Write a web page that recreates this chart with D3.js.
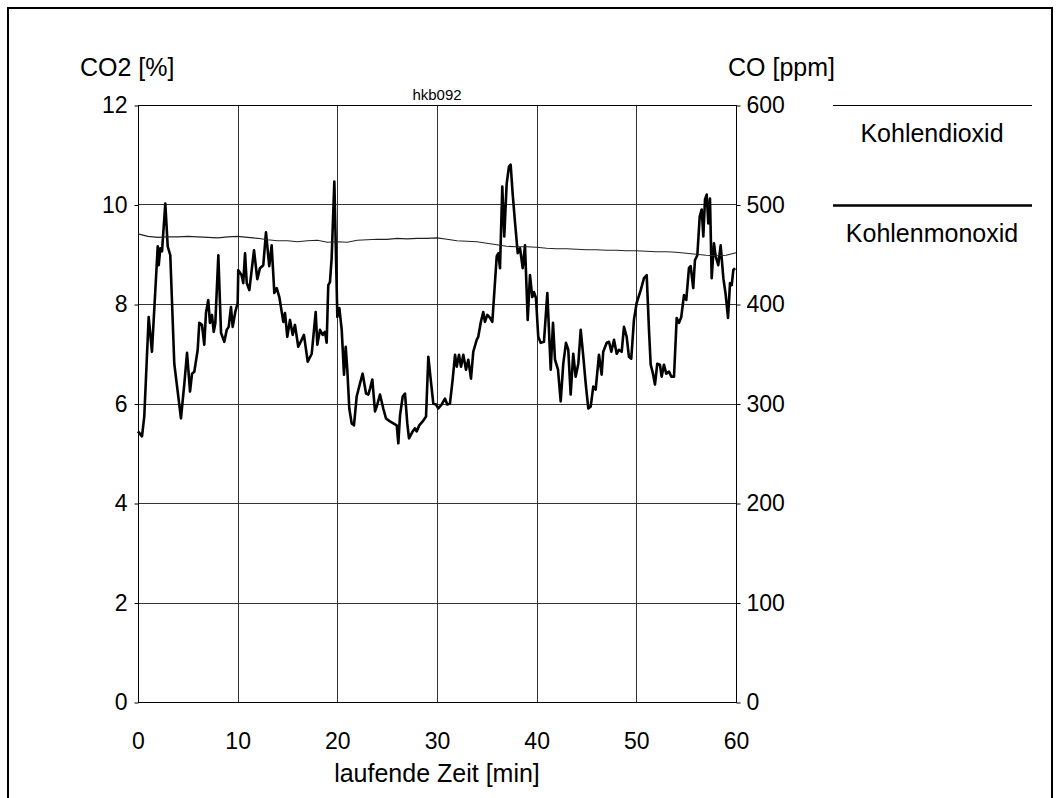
<!DOCTYPE html>
<html>
<head>
<meta charset="utf-8">
<script src="https://cdn.jsdelivr.net/npm/d3@7/dist/d3.min.js"></script>
<style>
  body { margin: 0; background: #fff; }
  text { font-family: "Liberation Sans", Arial, sans-serif; fill: #000; }
</style>
</head>
<body>
<script>
// Kohlenmonoxid (CO) in ppm, right axis
var coTime = [0.0, 0.40, 0.63, 1.07, 1.40, 1.98, 2.08, 2.24, 2.41, 2.74, 2.98, 3.24, 3.64, 4.31, 4.65, 4.92,
  5.22, 5.42, 5.65, 5.99, 6.15, 6.42, 6.65, 6.82, 7.05, 7.22, 7.42, 7.60, 7.76, 8.06, 8.33, 8.66, 8.90,
  9.10, 9.33, 9.50, 9.76, 10.00, 10.06, 10.40, 10.56, 10.74, 10.91, 11.17, 11.64, 11.97, 12.24, 12.57,
  12.84, 13.17, 13.41, 13.68, 13.92, 14.18, 14.58, 14.75, 14.98, 15.25, 15.52, 15.75, 16.08, 16.42,
  16.65, 17.03, 17.43, 17.83, 17.99, 18.26, 18.53, 18.76, 18.93, 19.09, 19.26, 19.43, 19.70, 20.00,
  20.20, 20.44, 20.67, 20.84, 21.00, 21.20, 21.44, 21.67, 21.94, 22.27, 22.54, 22.88, 23.11, 23.28,
  23.51, 23.78, 24.01, 24.28, 24.61, 24.88, 25.28, 25.62, 25.96, 26.12, 26.29, 26.56, 26.79, 27.02,
  27.19, 27.56, 27.79, 27.96, 28.22, 28.56, 28.90, 29.13, 29.37, 29.63, 29.90, 30.13, 30.47, 30.80,
  31.03, 31.30, 31.57, 31.81, 31.98, 32.21, 32.41, 32.64, 32.91, 33.14, 33.41, 33.64, 33.98, 34.14,
  34.38, 34.64, 34.81, 35.05, 35.32, 35.55, 35.72, 35.99, 36.15, 36.32, 36.55, 36.75, 36.99, 37.22,
  37.39, 37.59, 37.82, 38.10, 38.33, 38.60, 38.83, 39.10, 39.33, 39.56, 39.73, 39.93, 40.16, 40.40,
  40.73, 41.07, 41.41, 41.64, 41.84, 42.14, 42.41, 42.67, 42.94, 43.17, 43.41, 43.67, 43.91, 44.18,
  44.42, 44.68, 44.92, 45.18, 45.42, 45.68, 45.92, 46.25, 46.52, 46.68, 47.03, 47.26, 47.49, 47.76,
  48.03, 48.26, 48.53, 48.76, 49.03, 49.26, 49.49, 49.76, 50.03, 50.44, 50.77, 51.04, 51.27, 51.44,
  51.67, 51.87, 52.10, 52.37, 52.54, 52.77, 53.00, 53.28, 53.51, 53.78, 54.05, 54.28, 54.51, 54.78,
  55.01, 55.28, 55.45, 55.71, 55.88, 56.12, 56.36, 56.56, 56.72, 56.89, 57.06, 57.22, 57.39, 57.56,
  57.79, 57.96, 58.22, 58.46, 58.73, 58.97, 59.20, 59.40, 59.57, 59.73, 59.90];
var coPpm = [272, 267, 287, 387, 352, 458, 439, 456, 453, 501, 458, 449, 340, 285, 320, 351,
  312, 330, 332, 354, 381, 379, 359, 391, 404, 381, 389, 372, 381, 449, 371, 362, 374,
  377, 397, 377, 392, 401, 434, 429, 421, 451, 421, 414, 454, 425, 436, 439,
  472, 438, 459, 411, 416, 407, 382, 391, 367, 384, 369, 379, 357, 364,
  369, 342, 350, 392, 359, 374, 369, 372, 361, 419, 422, 446, 523, 387,
  396, 374, 329, 357, 334, 295, 280, 278, 307, 320, 330, 310, 309, 315,
  324, 292, 299, 309, 295, 285, 282, 280, 278, 260, 288, 307, 310, 280,
  265, 272, 275, 272, 278, 282, 287, 347, 324, 300, 299, 295, 299, 305,
  299, 300, 324, 349, 337, 349, 337, 349, 334, 344, 325, 352, 364, 367,
  381, 392, 382, 389, 386, 382, 407, 448, 451, 436, 518, 468, 521, 538,
  540, 511, 483, 451, 456, 436, 459, 384, 429, 407, 412, 406, 367, 361,
  362, 411, 334, 381, 344, 334, 302, 340, 361, 354, 309, 350, 327, 340,
  374, 347, 320, 295, 297, 317, 314, 349, 329, 352, 361, 362, 352, 364,
  350, 354, 352, 377, 367, 347, 345, 384, 401, 414, 426, 429, 374, 339,
  330, 319, 340, 339, 327, 339, 330, 332, 327, 327, 386, 381, 387, 409,
  404, 436, 438, 416, 444, 449, 488, 495, 468, 505, 510, 481, 506, 426,
  461, 448, 439, 459, 426, 409, 386, 421, 419, 434, 436];

// Kohlendioxid (CO2) in %, left axis
var co2Time = d3.range(0, 61);
var co2Pct = [9.41, 9.36, 9.34, 9.35, 9.35, 9.36, 9.35, 9.34, 9.33, 9.35, 9.36, 9.34, 9.32, 9.29, 9.27,
  9.27, 9.25, 9.27, 9.28, 9.24, 9.25, 9.24, 9.28, 9.29, 9.30, 9.30, 9.32, 9.31, 9.32, 9.32, 9.33,
  9.30, 9.27, 9.26, 9.25, 9.22, 9.19, 9.16, 9.15, 9.15, 9.14, 9.12, 9.11, 9.11, 9.10, 9.09, 9.09,
  9.08, 9.08, 9.07, 9.07, 9.06, 9.05, 9.05, 9.04, 9.02, 9.00, 8.98, 8.97, 8.98, 9.03];

var xTicks = [0, 10, 20, 30, 40, 50, 60];
var leftTicks = [0, 2, 4, 6, 8, 10, 12];
var rightTicks = [0, 100, 200, 300, 400, 500, 600];
var legendNames = ["Kohlendioxid", "Kohlenmonoxid"];

var W = 1058, H = 798;
var svg = d3.select("body").append("svg")
    .attr("width", W)
    .attr("height", H);

// outer frame
svg.append("rect")
    .attr("x", 8).attr("y", 8)
    .attr("width", 1044).attr("height", 800)
    .style("fill", "none")
    .style("stroke", "#000")
    .style("stroke-width", 2);

var x = d3.scaleLinear().domain([0, 60]).range([138, 736]);
var yL = d3.scaleLinear().domain([0, 12]).range([702, 105]);
var yR = d3.scaleLinear().domain([0, 600]).range([702, 105]);

// grid
svg.selectAll(".vgrid")
    .data(xTicks.slice(1, -1))
    .enter().append("line")
    .attr("x1", function(d) { return Math.round(x(d)) + 0.5; })
    .attr("x2", function(d) { return Math.round(x(d)) + 0.5; })
    .attr("y1", yL(12)).attr("y2", yL(0))
    .style("stroke", "#333").style("stroke-width", 1);

svg.selectAll(".hgrid")
    .data(leftTicks.slice(1, -1))
    .enter().append("line")
    .attr("y1", function(d) { return Math.round(yL(d)) + 0.5; })
    .attr("y2", function(d) { return Math.round(yL(d)) + 0.5; })
    .attr("x1", x(0)).attr("x2", x(60))
    .style("stroke", "#333").style("stroke-width", 1);

// plot frame
svg.append("rect")
    .attr("x", x(0) + 0.5).attr("y", yL(12) + 0.5)
    .attr("width", x(60) - x(0)).attr("height", yL(0) - yL(12))
    .style("fill", "none").style("stroke", "#000").style("stroke-width", 1);

// axes
var fs = "23px";
var fsTitle = "25px";
var leftAxis = d3.axisLeft(yL).tickValues(leftTicks).tickSize(4).tickPadding(7);
var gl = svg.append("g").attr("transform", "translate(" + (x(0) + 0.5) + ",0.5)").call(leftAxis);
var rightAxis = d3.axisRight(yR).tickValues(rightTicks).tickSize(4).tickPadding(6);
var gr = svg.append("g").attr("transform", "translate(" + (x(60) + 0.5) + ",0.5)").call(rightAxis);
var bottomAxis = d3.axisBottom(x).tickValues(xTicks).tickSize(0).tickPadding(30);
var gb = svg.append("g").attr("transform", "translate(0," + (yL(0) + 0.5) + ")").call(bottomAxis);

[gl, gr, gb].forEach(function(g) {
    g.select(".domain").remove();
    g.selectAll("line").style("stroke", "#000");
    g.selectAll("text")
        .attr("font-family", "Liberation Sans, Arial, sans-serif")
        .attr("font-size", fs)
        .style("fill", "#000");
});

// lines
var coLine = d3.line()
    .x(function(d, i) { return x(coTime[i]); })
    .y(function(d) { return yR(d); });
svg.append("path")
    .datum(coPpm)
    .attr("d", coLine)
    .style("fill", "none")
    .style("stroke", "#000")
    .style("stroke-width", 2.6)
    .style("stroke-linejoin", "round");

var co2Line = d3.line()
    .x(function(d, i) { return x(co2Time[i]); })
    .y(function(d) { return yL(d); });
svg.append("path")
    .datum(co2Pct)
    .attr("d", co2Line)
    .style("fill", "none")
    .style("stroke", "#222")
    .style("stroke-width", 1.1);

// titles
svg.append("text").text("CO2 [%]")
    .attr("x", 80).attr("y", 76)
    .attr("font-size", fsTitle);
svg.append("text").text("CO [ppm]")
    .attr("x", 728).attr("y", 76)
    .attr("font-size", fsTitle);
svg.append("text").text("hkb092")
    .attr("x", (x(0) + x(60)) / 2).attr("y", 100)
    .attr("text-anchor", "middle")
    .attr("font-size", "15px");
svg.append("text").text("laufende Zeit [min]")
    .attr("x", (x(0) + x(60)) / 2).attr("y", 782)
    .attr("text-anchor", "middle")
    .attr("font-size", fsTitle);

// legend
var legend = svg.selectAll(".legend")
    .data(legendNames)
    .enter().append("g")
    .attr("transform", function(d, i) { return "translate(0," + (105 + i * 100) + ")"; });
legend.append("line")
    .attr("x1", 833).attr("x2", 1032)
    .attr("y1", 0.5).attr("y2", 0.5)
    .style("stroke", "#000")
    .style("stroke-width", function(d, i) { return i === 0 ? 1 : 2.6; });
legend.append("text")
    .text(function(d) { return d; })
    .attr("x", 932).attr("y", 37)
    .attr("text-anchor", "middle")
    .attr("font-size", fsTitle);
</script>
</body>
</html>
